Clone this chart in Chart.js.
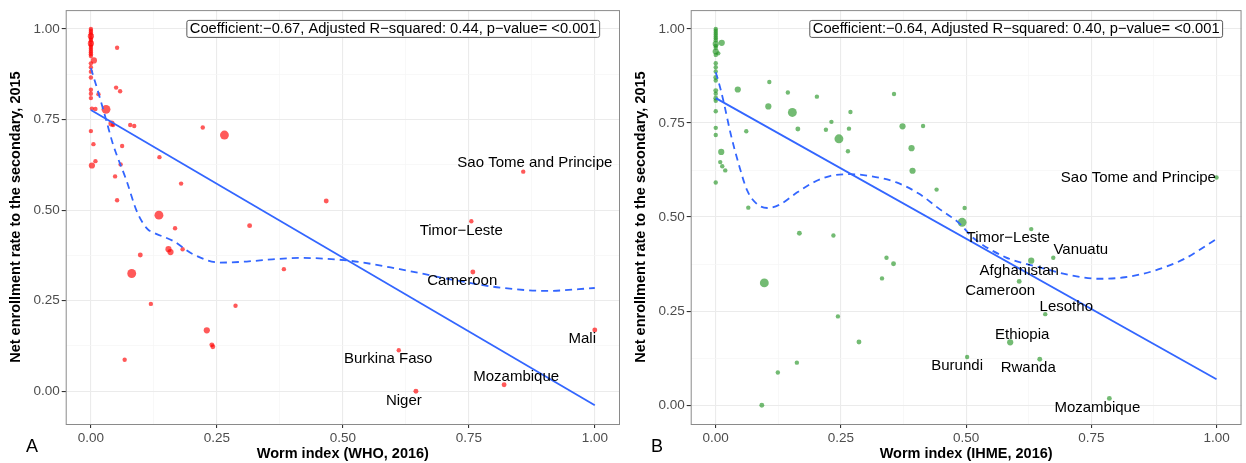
<!DOCTYPE html>
<html lang="en">
<head>
  <meta charset="UTF-8" />
  <title>Worm index and secondary enrollment</title>
  <script src="https://cdn.jsdelivr.net/npm/chart.js"></script>
  <style>
    body { margin: 0; background: #fff; width: 1246px; height: 463px; overflow: hidden; position: relative; font-family: "Liberation Sans", Arial, sans-serif; }
    .panel { position: absolute; top: 0; height: 463px; }
    #panelA { left: 0; width: 625px; }
    #panelB { left: 625px; width: 621px; }
  </style>
</head>
<body>
  <div class="panel" id="panelA"><canvas id="chartA"></canvas></div>
  <div class="panel" id="panelB"><canvas id="chartB"></canvas></div>

  <script>
    // ---- Panel A: WHO worm index ----
    const whoX = [0,0,0,0,0,0,0,0,0,0,0,0,0,0,0,0,
      0.006,0,0,0,0,0,0,0,0.015,0.002,0.009,0.030,0,0.052,0.050,0.058,
      0.041,0.044,0.078,0.086,0.222,0.265,0.005,0.062,0.002,0.009,0.059,0.136,0.048,0.179,
      0.052,0.467,0.135,0.167,0.315,0.098,0.154,0.158,0.182,0.081,0.383,0.119,0.287,0.230,
      0.240,0.242,0.067,0.858,0.755,0.758,1.0,0.611,0.820,0.645];
    const whoY = [1.0,0.995,0.99,0.985,0.98,0.975,0.97,0.965,0.96,0.955,0.95,0.945,0.94,0.935,0.93,0.925,
      0.913,0.905,0.894,0.882,0.866,0.832,0.821,0.809,0.82,0.78,0.779,0.778,0.718,0.948,0.838,0.828,
      0.739,0.735,0.735,0.732,0.728,0.707,0.682,0.677,0.623,0.635,0.626,0.646,0.593,0.573,
      0.527,0.525,0.486,0.450,0.457,0.376,0.392,0.384,0.392,0.325,0.337,0.241,0.236,0.168,
      0.128,0.123,0.087,0.606,0.469,0.329,0.169,0.113,0.018,0.0];
    const whoPop = [4,4,4,4,25,4,4,4,25,4,4,4,4,4,4,4,
      25,4,4,4,4,4,4,4,4,4,4,90,4,4,4,4,
      25,4,4,4,4,90,4,4,25,4,4,4,4,4,
      4,8,90,4,8,8,25,25,4,90,4,4,4,25,
      8,8,4,4,4,8,8,4,8,8];
    const whoLmX = [0, 1];
    const whoLmY = [0.776, -0.0385];
    const whoLoessX = [0,0.018,0.031,0.044,0.071,0.091,0.112,0.124,0.163,0.203,0.256,0.309,0.36,0.415,0.514,0.613,0.713,0.812,0.905,1.0];
    const whoLoessY = [0.892,0.809,0.745,0.681,0.58,0.497,0.448,0.438,0.415,0.378,0.355,0.358,0.364,0.368,0.36,0.337,0.309,0.286,0.277,0.285];
    const whoNames = ["Sao Tome and Principe","Timor\u2212Leste","Cameroon","Mali","Burkina Faso","Mozambique","Niger"];
    const whoNameX = [0.881,0.735,0.737,0.975,0.590,0.844,0.621];
    const whoNameY = [0.629,0.442,0.305,0.145,0.090,0.040,-0.026];
    const whoNote = "Coefficient:\u22120.67, Adjusted R\u2212squared: 0.44, p\u2212value= <0.001";

    // ---- Panel B: IHME worm index ----
    const ihmeX = [0,0,0,0,0,0,0,0,0,0,0,0,0,0,0,0,0,0,0,0,0,0,0,0,0,
      0.012,0.005,0.044,0.107,0.144,0.202,0.356,0.105,0.153,0.269,0.061,0.164,0.220,0.231,
      0.266,0.373,0.414,0.246,0.264,0.391,0.393,0.011,0.009,0.013,0.019,0.441,0.065,
      1.0,0.497,0.492,0.630,0.167,0.235,0.341,0.355,0.332,0.097,0.244,0.286,0.162,0.124,0.092,
      0.674,0.630,0.606,0.658,0.588,0.502,0.647,0.786];
    const ihmeY = [1.0,0.995,0.99,0.985,0.98,0.975,0.97,0.96,0.955,0.95,0.94,0.931,0.909,0.898,0.887,0.871,0.863,0.836,0.828,0.816,0.809,0.781,0.737,0.718,0.592,
      0.963,0.935,0.839,0.859,0.831,0.820,0.827,0.794,0.778,0.779,0.728,0.734,0.732,0.753,
      0.735,0.741,0.742,0.708,0.675,0.683,0.623,0.673,0.646,0.635,0.624,0.573,0.525,
      0.605,0.524,0.486,0.468,0.457,0.451,0.392,0.376,0.337,0.325,0.236,0.168,0.113,0.087,0.0,
      0.392,0.384,0.329,0.242,0.167,0.128,0.122,0.018];
    const ihmePop = [4,4,4,4,4,4,4,25,4,4,25,4,4,4,4,8,4,8,4,8,4,4,4,4,4,
      25,4,25,4,4,4,4,25,90,4,4,8,4,4,
      4,25,4,90,4,25,25,25,4,4,4,4,4,
      4,4,90,4,8,4,4,8,4,90,4,8,4,4,8,
      4,25,8,4,25,4,8,8];
    const ihmeLmX = [0, 1];
    const ihmeLmY = [0.816, 0.069];
    const ihmeLoessX = [0,0.009,0.017,0.030,0.046,0.063,0.083,0.103,0.129,0.162,0.195,0.228,0.268,0.308,0.361,0.407,0.447,0.486,0.513,0.579,0.645,0.711,0.764,0.817,0.877,0.936,1.0];
    const ihmeLoessY = [0.885,0.843,0.799,0.720,0.640,0.570,0.534,0.524,0.534,0.565,0.592,0.609,0.614,0.609,0.592,0.561,0.521,0.484,0.446,0.393,0.367,0.345,0.336,0.340,0.358,0.389,0.442];
    const ihmeNames = ["Sao Tome and Principe","Timor\u2212Leste","Vanuatu","Afghanistan","Cameroon","Lesotho","Ethiopia","Burundi","Rwanda","Mozambique"];
    const ihmeNameX = [0.844,0.584,0.729,0.606,0.568,0.700,0.612,0.482,0.624,0.762];
    const ihmeNameY = [0.604,0.445,0.413,0.358,0.305,0.262,0.188,0.104,0.099,-0.007];
    const ihmeNote = "Coefficient:\u22120.64, Adjusted R\u2212squared: 0.40, p\u2212value= <0.001";

    const tickValues = [0,0.125,0.25,0.375,0.5,0.625,0.75,0.875,1];
    const FONT = '"Liberation Sans", Arial, sans-serif';

    function radius(w) {
      return 1.6 + 0.3 * Math.sqrt(w);
    }

    function isMajor(v) {
      return Math.abs(v * 4 - Math.round(v * 4)) < 1e-6;
    }

    function pairs(xs, ys) {
      return xs.map((x, i) => ({ x: x, y: ys[i] }));
    }

    const panelText = {
      id: "panelText",
      afterDatasetsDraw(chart, args, opts) {
        const { ctx, chartArea } = chart;
        const x = chart.scales.x, y = chart.scales.y;
        ctx.save();
        ctx.font = "15px " + FONT;
        ctx.fillStyle = "#000";
        ctx.textAlign = "center";
        ctx.textBaseline = "middle";
        opts.names.forEach((n, i) => {
          ctx.fillText(n, x.getPixelForValue(opts.nx[i]), y.getPixelForValue(opts.ny[i]));
        });

        // stats label box
        ctx.font = "14.7px " + FONT;
        const cx = x.getPixelForValue(0.6), cy = y.getPixelForValue(1.0);
        const w = ctx.measureText(opts.note).width + 6, h = 17;
        ctx.beginPath();
        ctx.roundRect(cx - w / 2, cy - h / 2, w, h, 2);
        ctx.fillStyle = "#fff";
        ctx.fill();
        ctx.strokeStyle = "#444";
        ctx.lineWidth = 0.9;
        ctx.stroke();
        ctx.fillStyle = "#000";
        ctx.fillText(opts.note, cx, cy + 0.5);

        // panel border
        ctx.strokeStyle = "#8a8a8a";
        ctx.lineWidth = 1;
        ctx.strokeRect(chartArea.left + 0.5, chartArea.top + 0.5, chartArea.right - chartArea.left - 1, chartArea.bottom - chartArea.top);

        // panel letter
        ctx.font = "18px " + FONT;
        ctx.fillText(opts.letter, 32, 447);
        ctx.restore();
      }
    };

    function makeChart(canvasId, o) {
      const grid = {
        color: c => (c.tick && isMajor(c.tick.value)) ? "#ebebeb" : "#f5f5f5",
        lineWidth: c => (c.tick && isMajor(c.tick.value)) ? 1.1 : 0.7,
        tickColor: c => (c.tick && isMajor(c.tick.value)) ? "#333" : "rgba(0,0,0,0)",
        tickLength: 4,
        drawTicks: true
      };
      const tickFont = { family: FONT, size: 13.5 };
      const titleFont = { family: FONT, size: 14.5, weight: "bold" };

      return new Chart(document.getElementById(canvasId), {
        type: "scatter",
        data: {
          datasets: [
            {
              data: pairs(o.px, o.py),
              backgroundColor: o.color,
              borderWidth: 0,
              pointRadius: c => radius(o.pop[c.dataIndex]),
              order: 3
            },
            {
              data: pairs(o.loessX, o.loessY),
              showLine: true,
              pointRadius: 0,
              borderColor: "#3366FF",
              borderWidth: 1.8,
              borderDash: [7, 5],
              cubicInterpolationMode: "monotone",
              order: 2
            },
            {
              data: pairs(o.lmX, o.lmY),
              showLine: true,
              pointRadius: 0,
              borderColor: "#3366FF",
              borderWidth: 1.8,
              order: 1
            }
          ]
        },
        options: {
          responsive: true,
          maintainAspectRatio: false,
          animation: false,
          layout: { padding: { top: 8, right: o.padRight, left: 0, bottom: 0 } },
          plugins: {
            legend: { display: false },
            tooltip: { enabled: false },
            panelText: { names: o.names, nx: o.nameX, ny: o.nameY, note: o.note, letter: o.letter }
          },
          scales: {
            x: {
              type: "linear",
              min: -0.05,
              max: 1.05,
              grid: grid,
              border: { display: false },
              afterBuildTicks: s => { s.ticks = tickValues.map(v => ({ value: v })); },
              afterFit: s => { s.height = 39; },
              ticks: {
                font: tickFont,
                color: "#4d4d4d",
                padding: 2,
                maxRotation: 0,
                autoSkip: false,
                callback: v => isMajor(v) ? v.toFixed(2) : ""
              },
              title: { display: true, text: o.xTitle, font: titleFont, color: "#000", padding: { top: 0, bottom: 0 } }
            },
            y: {
              type: "linear",
              min: o.yMin,
              max: o.yMax,
              grid: grid,
              border: { display: false },
              afterBuildTicks: s => { s.ticks = tickValues.map(v => ({ value: v })); },
              afterFit: s => { s.width = 65.7; },
              ticks: {
                font: tickFont,
                color: "#4d4d4d",
                padding: 2,
                autoSkip: false,
                callback: v => isMajor(v) ? v.toFixed(2) : ""
              },
              title: { display: true, text: "Net enrollment rate to the secondary, 2015", font: titleFont, color: "#000", padding: { top: 7, bottom: 0 } }
            }
          }
        },
        plugins: [panelText]
      });
    }

    makeChart("chartA", {
      px: whoX, py: whoY, pop: whoPop, color: "rgba(255,0,0,0.65)",
      lmX: whoLmX, lmY: whoLmY, loessX: whoLoessX, loessY: whoLoessY,
      names: whoNames, nameX: whoNameX, nameY: whoNameY, note: whoNote,
      letter: "A", xTitle: "Worm index (WHO, 2016)",
      yMin: -0.0904, yMax: 1.0519, padRight: 5
    });

    makeChart("chartB", {
      px: ihmeX, py: ihmeY, pop: ihmePop, color: "rgba(40,150,40,0.65)",
      lmX: ihmeLmX, lmY: ihmeLmY, loessX: ihmeLoessX, loessY: ihmeLoessY,
      names: ihmeNames, nameX: ihmeNameX, nameY: ihmeNameY, note: ihmeNote,
      letter: "B", xTitle: "Worm index (IHME, 2016)",
      yMin: -0.05, yMax: 1.05, padRight: 0
    });
  </script>
</body>
</html>
